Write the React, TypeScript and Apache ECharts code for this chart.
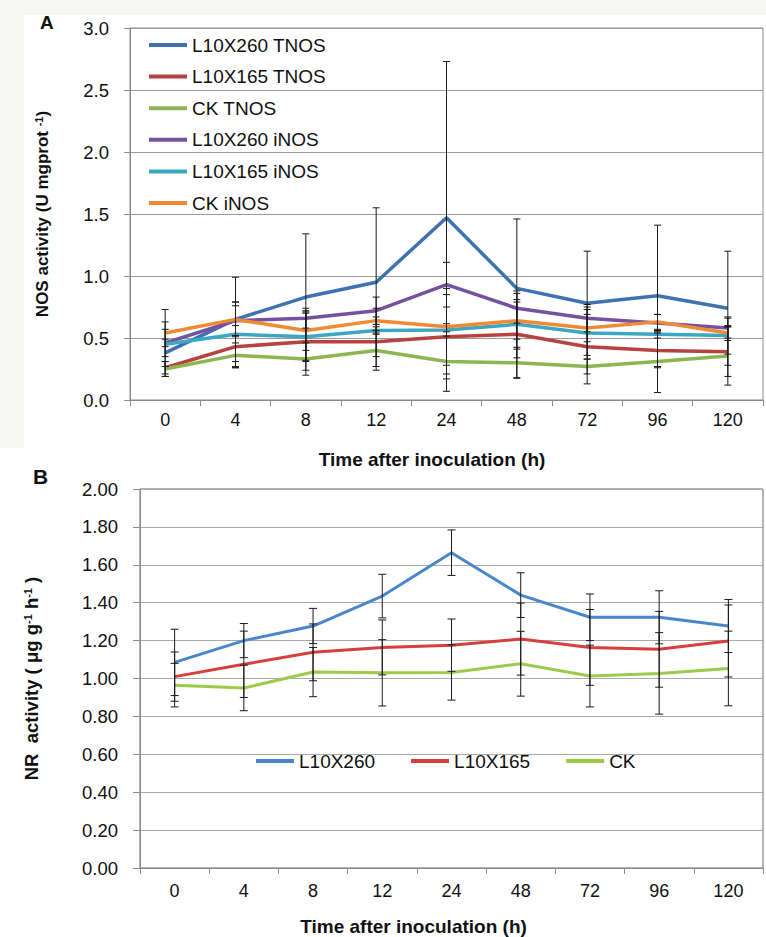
import React, { useEffect, useRef } from "react";
import * as echarts from "echarts";

// ---------- data ----------
const hours = ["0", "4", "8", "12", "24", "48", "72", "96", "120"];

// Panel A: NOS activity (U mgprot-1)
const namesA = ["L10X260 TNOS", "L10X165 TNOS", "CK TNOS", "L10X260 iNOS", "L10X165 iNOS", "CK iNOS"];
const l260TNOS = [0.38, 0.65, 0.83, 0.95, 1.47, 0.9, 0.78, 0.84, 0.74];
const l165TNOS = [0.26, 0.43, 0.47, 0.47, 0.51, 0.53, 0.43, 0.4, 0.39];
const ckTNOS = [0.25, 0.36, 0.33, 0.4, 0.31, 0.3, 0.27, 0.31, 0.355];
const l260iNOS = [0.46, 0.64, 0.66, 0.72, 0.93, 0.74, 0.66, 0.62, 0.58];
const l165iNOS = [0.45, 0.53, 0.51, 0.56, 0.565, 0.61, 0.54, 0.53, 0.52];
const ckiNOS = [0.54, 0.65, 0.56, 0.64, 0.59, 0.64, 0.58, 0.63, 0.54];

const errL260TNOS = [0.19, 0.34, 0.51, 0.6, 1.26, 0.56, 0.42, 0.57, 0.46];
const errL165TNOS = [0.05, 0.17, 0.23, 0.2, 0.34, 0.35, 0.3, 0.14, 0.2];
const errCkTNOS = [0.06, 0.1, 0.13, 0.16, 0.24, 0.125, 0.06, 0.25, 0.235];
const errL260iNOS = [0.03, 0.12, 0.08, 0.11, 0.18, 0.12, 0.11, 0.07, 0.08];
const errL165iNOS = [0.18, 0.26, 0.2, 0.03, 0.05, 0.2, 0.21, 0.03, 0.15];
const errCkiNOS = [0.19, 0.14, 0.16, 0.1, 0.31, 0.15, 0.11, 0.06, 0.06];

const yTicksA = [0, 0.5, 1.0, 1.5, 2.0, 2.5, 3.0];

// Panel B: NR activity (μg g-1 h-1)
const namesB = ["L10X260", "L10X165", "CK"];
const nrL260 = [1.085, 1.2, 1.277, 1.435, 1.664, 1.44, 1.323, 1.323, 1.277];
const nrL165 = [1.01, 1.075, 1.138, 1.164, 1.176, 1.208, 1.164, 1.154, 1.198];
const nrCK = [0.965, 0.95, 1.034, 1.03, 1.032, 1.078, 1.013, 1.027, 1.053];
const errNrL260 = [0.175, 0.09, 0.093, 0.115, 0.12, 0.118, 0.123, 0.14, 0.14];
const errNrL165 = [0.13, 0.175, 0.15, 0.145, 0.138, 0.19, 0.2, 0.2, 0.19];
const errNrCK = [0.115, 0.12, 0.13, 0.175, 0.146, 0.171, 0.163, 0.215, 0.197];

const yTicksB = [0, 0.2, 0.4, 0.6, 0.8, 1.0, 1.2, 1.4, 1.6, 1.8, 2.0];

const colorsA = ["#3F72B2", "#B8423F", "#8DB653", "#7452A0", "#3BA7C2", "#F08A32"];
const colorsB = ["#4A87CA", "#D63F3E", "#9CCB4B"];

const FONT = "'Liberation Sans', Arial, sans-serif";

export default function App() {
  const ref = useRef<HTMLDivElement>(null);

  useEffect(() => {
    if (!ref.current) return;
    const chart = echarts.init(ref.current, undefined, { renderer: "svg" });

    const errSeries = (name: string, xi: number, vals: number[], errs: number[], cap: number) => ({
      type: "custom",
      name,
      xAxisIndex: xi,
      yAxisIndex: xi,
      z: 5,
      silent: true,
      encode: { x: 0, y: [1, 2] },
      data: vals.map((v, i) => [i, v - errs[i], v + errs[i]]),
      renderItem: (params: any, api: any) => {
        const x = api.value(0);
        const lo = api.coord([x, api.value(1)]);
        const hi = api.coord([x, api.value(2)]);
        const style = { stroke: "#1a1a1a", lineWidth: 1, fill: "none" };
        return {
          type: "group",
          children: [
            { type: "line", shape: { x1: hi[0], y1: hi[1], x2: lo[0], y2: lo[1] }, style },
            { type: "line", shape: { x1: hi[0] - cap, y1: hi[1], x2: hi[0] + cap, y2: hi[1] }, style },
            { type: "line", shape: { x1: lo[0] - cap, y1: lo[1], x2: lo[0] + cap, y2: lo[1] }, style },
          ],
        };
      },
    });

    const lineSeries = (name: string, xi: number, vals: number[], color: string, w: number) => ({
      type: "line",
      name,
      xAxisIndex: xi,
      yAxisIndex: xi,
      data: vals,
      symbol: "none",
      z: 3,
      lineStyle: { color, width: w },
      itemStyle: { color },
    });

    const valsA = [l260TNOS, l165TNOS, ckTNOS, l260iNOS, l165iNOS, ckiNOS];
    const errsA = [errL260TNOS, errL165TNOS, errCkTNOS, errL260iNOS, errL165iNOS, errCkiNOS];
    const valsB = [nrL260, nrL165, nrCK];
    const errsB = [errNrL260, errNrL165, errNrCK];

    const series: any[] = [];
    valsA.forEach((v, k) => series.push(lineSeries(namesA[k], 0, v, colorsA[k], 3.5)));
    valsB.forEach((v, k) => series.push(lineSeries(namesB[k], 1, v, colorsB[k], 3)));
    valsA.forEach((v, k) => series.push(errSeries("errA" + k, 0, v, errsA[k], 3.5)));
    valsB.forEach((v, k) => series.push(errSeries("errB" + k, 1, v, errsB[k], 4)));

    const xAxisBase = (gi: number, margin: number, nameGap: number, shift: number) => ({
      type: "category",
      gridIndex: gi,
      data: hours,
      boundaryGap: true,
      axisLine: { show: true, lineStyle: { color: "#8a8a8a", width: 1 } },
      axisTick: { show: true, length: 6, inside: false, lineStyle: { color: "#8a8a8a" } },
      axisLabel: { color: "#111", fontSize: 18, fontFamily: FONT, margin },
      splitLine: { show: false },
      name: "Time after inoculation (h)",
      nameLocation: "middle",
      nameGap,
      nameTextStyle: {
        color: "#111",
        fontSize: 19,
        fontWeight: "bold",
        fontFamily: FONT,
        padding: [0, shift, 0, 0],
      },
    });

    const supRich = {
      sup: { fontSize: 11, fontWeight: "bold", verticalAlign: "top", padding: [0, 0, 8, 0], fontFamily: FONT, color: "#111" },
    };

    const option: any = {
      animation: false,
      backgroundColor: "#ffffff",
      textStyle: { fontFamily: FONT },
      graphic: [
        { type: "rect", z: -10, shape: { x: 0, y: 0, width: 766, height: 15 }, style: { fill: "#f6f6f3" }, silent: true },
        { type: "rect", z: -10, shape: { x: 0, y: 0, width: 24, height: 448 }, style: { fill: "#f6f6f3" }, silent: true },
        { type: "text", left: 40, top: 13, style: { text: "A", fontSize: 19, fontWeight: "bold", fill: "#111", fontFamily: FONT } },
        { type: "text", left: 33, top: 466, style: { text: "B", fontSize: 21, fontWeight: "bold", fill: "#111", fontFamily: FONT } },
      ],
      grid: [
        { left: 130, top: 28, width: 633, height: 372, show: true, borderColor: "#8a8a8a", borderWidth: 1, backgroundColor: "transparent" },
        { left: 140, top: 489, width: 623, height: 379, show: true, borderColor: "#6a6a6a", borderWidth: 1, backgroundColor: "transparent" },
      ],
      legend: [
        {
          data: namesA,
          orient: "vertical",
          left: 149,
          top: 35,
          padding: 0,
          icon: "rect",
          itemWidth: 38,
          itemHeight: 4,
          itemGap: 11.6,
          textStyle: { fontSize: 19, color: "#111", fontFamily: FONT, lineHeight: 20 },
          selectedMode: false,
        },
        {
          data: namesB,
          orient: "horizontal",
          left: 256,
          top: 751,
          padding: 0,
          icon: "rect",
          itemWidth: 38,
          itemHeight: 4,
          itemGap: 36,
          textStyle: { fontSize: 19, color: "#111", fontFamily: FONT, lineHeight: 20 },
          selectedMode: false,
        },
      ],
      xAxis: [xAxisBase(0, 11, 50, 29), xAxisBase(1, 14, 49, 76)],
      yAxis: [
        {
          type: "value",
          gridIndex: 0,
          min: yTicksA[0],
          max: yTicksA[yTicksA.length - 1],
          interval: 0.5,
          axisLine: { show: true, lineStyle: { color: "#8a8a8a" } },
          axisTick: { show: true, length: 6, lineStyle: { color: "#8a8a8a" } },
          axisLabel: { color: "#111", fontSize: 18.5, fontFamily: FONT, margin: 21, formatter: (v: number) => v.toFixed(1) },
          splitLine: { show: true, lineStyle: { color: "#9a9a9a", width: 1 } },
          name: "NOS activity (U mgprot {sup|-1})",
          nameLocation: "middle",
          nameRotate: 90,
          nameGap: 78,
          nameTextStyle: { color: "#111", fontSize: 17, fontWeight: "bold", fontFamily: FONT, rich: supRich },
        },
        {
          type: "value",
          gridIndex: 1,
          min: yTicksB[0],
          max: yTicksB[yTicksB.length - 1],
          interval: 0.2,
          axisLine: { show: true, lineStyle: { color: "#8a8a8a" } },
          axisTick: { show: true, length: 7, lineStyle: { color: "#8a8a8a" } },
          axisLabel: { color: "#111", fontSize: 18.5, fontFamily: FONT, margin: 22, formatter: (v: number) => v.toFixed(2) },
          splitLine: { show: true, lineStyle: { color: "#a8a8a8", width: 1 } },
          name: "NR  activity ( μg g{sup|-1} h{sup|-1} )",
          nameLocation: "middle",
          nameRotate: 90,
          nameGap: 99,
          nameTextStyle: { color: "#111", fontSize: 18.5, fontWeight: "bold", fontFamily: FONT, rich: supRich },
        },
      ],
      series,
    };

    chart.setOption(option);
    return () => chart.dispose();
  }, []);

  return (
    <div
      ref={ref}
      style={{ position: "fixed", left: 0, top: 0, width: 766, height: 937, background: "#fff" }}
    />
  );
}
